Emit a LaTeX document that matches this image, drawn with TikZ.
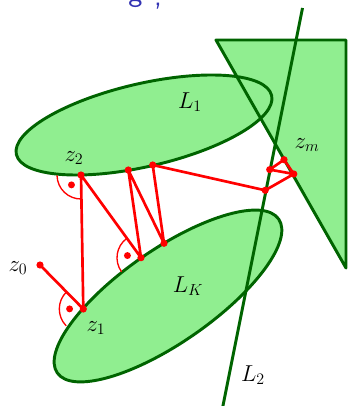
\documentclass[tikz,border=0pt]{standalone}
\usetikzlibrary{calc}
\definecolor{lfill}{RGB}{144,238,144}
\definecolor{lline}{RGB}{0,100,0}
\definecolor{titleblue}{RGB}{51,51,179}
\begin{document}
\begin{tikzpicture}[x=0.75pt,y=-0.75pt,
  outline/.style={draw=lline,line width=2.2pt,line join=round},
  seg/.style={draw=red,line width=2pt,line join=round},
  ramark/.style={draw=red,line width=1pt},
  lab/.style={font=\fontsize{17.3}{20}\selectfont,inner sep=0pt},
  ttl/.style={font=\sffamily\fontsize{22.5}{26}\selectfont,text=titleblue,anchor=base,inner sep=0pt}]
\useasboundingbox (0,0) rectangle (349,406);
\clip (0,0) rectangle (349,406);

% partially visible title
\node[ttl] (tg) at (135.5,1.5) {g};
\node[ttl] (tc) at (158,5.5) {,};

% regions
\coordinate (t1) at (216,40);
\coordinate (t2) at (346,40);
\coordinate (t3) at (346,268);
\coordinate (c1) at (144,125);
\coordinate (cK) at (168,296);
\fill[lfill] (t1) -- (t2) -- (t3) -- cycle;
\fill[lfill, rotate around={13:(c1)}] (c1) ellipse [x radius=98.25pt, y radius=31.1pt];
\fill[lfill, rotate around={34.8:(cK)}] (cK) ellipse [x radius=101.1pt, y radius=34.9pt];
\draw[outline] (t1) -- (t2) -- (t3) -- cycle;
\draw[outline, rotate around={13:(c1)}] (c1) ellipse [x radius=98.25pt, y radius=31.1pt];
\draw[outline, rotate around={34.8:(cK)}] (cK) ellipse [x radius=101.1pt, y radius=34.9pt];
\coordinate (l2a) at (302.5,8);
\coordinate (l2b) at (222.5,408);
\draw[outline] (l2a) -- (l2b);

% points
\coordinate (z0) at (40,265);
\coordinate (z1) at (83.3,309);
\coordinate (z2) at (81,175);
\coordinate (pA) at (128.3,170);
\coordinate (pB) at (152.7,165);
\coordinate (pC) at (164,243.3);
\coordinate (pD) at (141,257.7);
\coordinate (pE) at (265.2,190.3);
\coordinate (pG) at (269.7,169.6);
\coordinate (pF) at (284,159.7);
\coordinate (pH) at (293.8,174);

% right-angle marks
\draw[ramark] ($(z2)+(181:18pt)$) arc[start angle=181, end angle=271, radius=18pt];
\fill[red] ($(z2)+(226:10.3pt)$) circle (2.6pt);
\draw[ramark] ($(pD)+(126:18pt)$) arc[start angle=126, end angle=216, radius=18pt];
\fill[red] ($(pD)+(171:10.3pt)$) circle (2.6pt);
\draw[ramark] ($(z1)+(134.5:18pt)$) arc[start angle=134.5, end angle=224.5, radius=18pt];
\fill[red] ($(z1)+(179.5:10.3pt)$) circle (2.6pt);

% connectors
\draw[seg] (z0) -- (z1) -- (z2) -- (pD) -- (pA) -- (pC) -- (pB) -- (pE) -- (pH) -- (pG) -- (pF) -- (pH);

% dots
\foreach \p in {z0,z1,z2,pA,pB,pC,pD,pE,pG,pF,pH}
  \fill[red] (\p) circle (2.7pt);

% labels
\node[lab] (lz0) at (18,268) {$z_0$};
\node[lab] (lz1) at (96,328) {$z_1$};
\node[lab] (lz2) at (74,158) {$z_2$};
\node[lab] (lzm) at (307,145) {$z_m$};
\node[lab] (lL1) at (190,102) {$L_1$};
\node[lab] (lLK) at (188,286) {$L_K$};
\node[lab] (lL2) at (253,375) {$L_2$};
\end{tikzpicture}
\end{document}
